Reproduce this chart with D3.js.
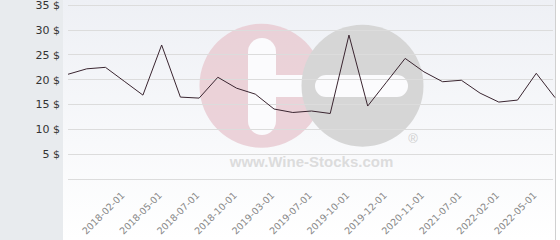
<!DOCTYPE html>
<html><head><meta charset="utf-8">
<script src="https://cdn.jsdelivr.net/npm/d3@7"></script>
<style>html,body{margin:0;padding:0;background:#fff;overflow:hidden}</style>
</head><body>
<svg id="chart" width="560" height="240"></svg>
<script>
const categories = ["2017-09-01","2017-11-01","2017-12-01","2018-02-01","2018-04-01","2018-05-01","2018-06-01","2018-07-01","2018-09-01","2018-10-01","2018-12-01","2019-03-01","2019-05-01","2019-07-01","2019-09-01","2019-10-01","2019-11-01","2019-12-01","2020-06-01","2020-11-01","2021-03-01","2021-07-01","2021-11-01","2022-02-01","2022-04-01","2022-05-01","2022-08-01"];
const prices = [21.0,22.1,22.4,19.6,16.8,26.9,16.4,16.2,20.4,18.2,17.0,14.0,13.3,13.6,13.1,28.9,14.6,19.4,24.2,21.5,19.5,19.8,17.2,15.4,15.8,21.2,16.3];
const xTickLabels = ["2018-02-01","2018-05-01","2018-07-01","2018-10-01","2019-03-01","2019-07-01","2019-10-01","2019-12-01","2020-11-01","2021-07-01","2022-02-01","2022-05-01"];
const yTicks = [0,5,10,15,20,25,30,35];

const svg = d3.select("#chart");
const defs = svg.append("defs");
const grad = defs.append("linearGradient").attr("id","bg").attr("x1",0).attr("y1",0).attr("x2",0).attr("y2",1);
grad.append("stop").attr("offset","0%").attr("stop-color","#eef0f5");
grad.append("stop").attr("offset","100%").attr("stop-color","#ffffff");

// side panel and plot background
svg.append("rect").attr("x",0).attr("y",0).attr("width",63).attr("height",240).attr("fill","#e8ebee");
svg.append("rect").attr("x",63).attr("y",0).attr("width",492).attr("height",240).attr("fill","url(#bg)");
svg.append("line").attr("x1",555.5).attr("x2",555.5).attr("y1",0).attr("y2",240).attr("stroke","#d0d0d0");

const x = d3.scalePoint().domain(categories).range([68,555]);
const y = d3.scaleLinear().domain([0,35]).range([178.5,4.8]);

// watermark
const wm = svg.append("g");
wm.append("circle").attr("cx",261.5).attr("cy",85.7).attr("r",62).attr("fill","#e9cbd2").attr("opacity",0.85);
wm.append("rect").attr("x",248).attr("y",38).attr("width",28).attr("height",97).attr("rx",14).attr("fill","#fbfbfd");
wm.append("rect").attr("x",248).attr("y",75).attr("width",60).attr("height",22).attr("fill","#fbfbfd");
wm.append("circle").attr("cx",362.5).attr("cy",85.7).attr("r",61).attr("fill","#d6d6d6");
wm.append("rect").attr("x",315).attr("y",75).attr("width",93).attr("height",22).attr("rx",11).attr("fill","#fbfbfd");
wm.append("text").attr("x",413).attr("y",143).attr("text-anchor","middle").attr("font-family","Liberation Sans, Arial, sans-serif").attr("font-size",13).attr("fill","#cfcfcf").text("®");
wm.append("text").attr("x",311.5).attr("y",166.5).attr("text-anchor","middle").attr("font-family","Liberation Sans, Arial, sans-serif").attr("font-weight","bold").attr("font-size",15).attr("fill","#dcdcdc").text("www.Wine-Stocks.com");

// gridlines
svg.append("g").selectAll("line").data(yTicks).join("line")
  .attr("x1",68).attr("x2",553).attr("y1",d=>Math.round(y(d))+0.5).attr("y2",d=>Math.round(y(d))+0.5)
  .attr("stroke","#dcdcdc").attr("stroke-width",1);

// y labels
const yAxis = d3.axisLeft(y).tickValues(yTicks.filter(d=>d>0)).tickSize(0).tickPadding(0).tickFormat(d=>d+" $");
const yg = svg.append("g").attr("transform","translate(60,0)").call(yAxis);
yg.select(".domain").remove();
yg.selectAll("text").attr("font-family","DejaVu Sans, sans-serif").attr("font-size",11).attr("fill","#333").attr("dy","0.35em");

// x labels
const xAxis = d3.axisBottom(x).tickValues(xTickLabels).tickSize(0).tickPadding(0);
const xg = svg.append("g").attr("transform","translate(0,0)").call(xAxis);
xg.select(".domain").remove();
xg.selectAll(".tick").attr("transform",d=>`translate(${x(d)},0)`);
xg.selectAll("text")
  .attr("font-family","DejaVu Sans, sans-serif").attr("font-size",9.5).attr("fill","#888")
  .attr("text-anchor","end").attr("dy",null).attr("y",null)
  .attr("transform","translate(1,196) rotate(-45)");

// line
const line = d3.line().x((d,i)=>x(categories[i])).y(d=>y(d));
svg.append("path").datum(prices).attr("d",line).attr("fill","none").attr("stroke","#3a2530").attr("stroke-width",1);
</script>
</body></html>
